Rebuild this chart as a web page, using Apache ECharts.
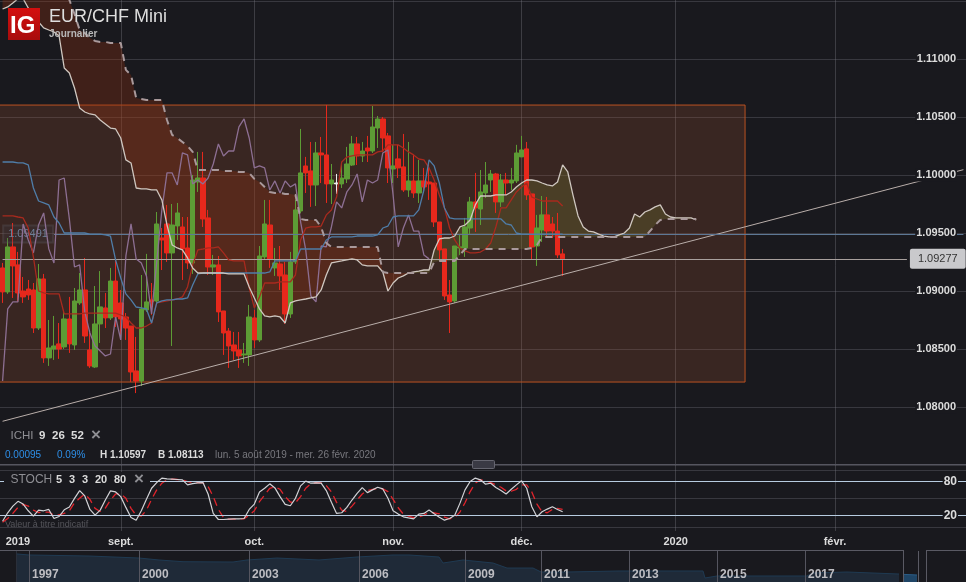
<!DOCTYPE html>
<html><head><meta charset="utf-8">
<style>html,body{margin:0;padding:0;background:#19191e}#c{width:966px;height:582px}</style>
<script src="https://cdn.jsdelivr.net/npm/echarts@6/dist/echarts.min.js"></script></head>
<body><div id="c"></div>
<script>
const opens=[1.09199,1.08992,1.0938,1.09225,1.09,1.09017,1.09009,1.08681,1.09104,1.08423,1.085,1.08544,1.08518,1.08759,1.08535,1.08897,1.09009,1.08492,1.08345,1.08716,1.08854,1.08768,1.09086,1.08897,1.08776,1.08698,1.08311,1.08224,1.08837,1.08923,1.08914,1.09457,1.09578,1.09328,1.09561,1.09552,1.09371,1.09242,1.0994,1.09974,1.0963,1.09207,1.09225,1.08828,1.08655,1.08535,1.08492,1.08449,1.08449,1.08768,1.08578,1.09294,1.09569,1.09199,1.09233,1.09138,1.08802,1.09251,1.0969,1.10078,1.10035,1.09914,1.1019,1.10173,1.09923,1.09931,1.09923,1.09966,1.10086,1.10268,1.10164,1.10233,1.10207,1.10405,1.10483,1.10337,1.10052,1.10139,1.1007,1.09871,1.09949,1.09845,1.09949,1.0994,1.09931,1.09595,1.09363,1.08966,1.08914,1.09371,1.09371,1.09543,1.09768,1.09707,1.09845,1.09957,1.10009,1.09768,1.09957,1.09931,1.09949,1.10156,1.10225,1.09837,1.09388,1.09526,1.09656,1.09578,1.09517,1.0932];
const closes=[1.08992,1.0938,1.09216,1.08983,1.08949,1.08966,1.08681,1.09104,1.08423,1.08509,1.08526,1.085,1.08759,1.08544,1.08914,1.09009,1.08612,1.08354,1.08716,1.08863,1.08768,1.09086,1.08776,1.08759,1.08681,1.08302,1.08224,1.08845,1.08906,1.08906,1.09578,1.0944,1.09328,1.09569,1.09673,1.09363,1.09242,1.09957,1.09974,1.09621,1.09207,1.09225,1.0882,1.08638,1.08526,1.08483,1.0844,1.08457,1.08776,1.08578,1.09302,1.09578,1.09276,1.09242,1.0913,1.08802,1.09251,1.09699,1.10018,1.10018,1.09914,1.1019,1.10173,1.09923,1.09957,1.09923,1.09974,1.10095,1.10268,1.10164,1.10207,1.10207,1.10414,1.10483,1.10319,1.10061,1.10078,1.10061,1.09871,1.09949,1.09845,1.09949,1.09897,1.09923,1.09595,1.09354,1.08957,1.08906,1.09388,1.0938,1.09552,1.09768,1.09716,1.09854,1.09914,1.10009,1.09768,1.09957,1.09931,1.09957,1.1019,1.10216,1.09828,1.0938,1.09543,1.09656,1.09517,1.09517,1.09311,1.09277];
const highs=[1.09242,1.09457,1.09586,1.09337,1.09121,1.09095,1.09069,1.09233,1.09147,1.0875,1.08785,1.08724,1.08837,1.08949,1.09026,1.09155,1.09285,1.08638,1.09043,1.09172,1.08983,1.09199,1.09268,1.09009,1.0881,1.08698,1.08604,1.09138,1.0932,1.09069,1.09681,1.09543,1.09742,1.0975,1.09759,1.09638,1.09638,1.1,1.10199,1.10199,1.09699,1.09311,1.09302,1.08828,1.08681,1.08647,1.08647,1.08552,1.0888,1.08837,1.09388,1.09785,1.09785,1.09371,1.09388,1.09251,1.09337,1.09785,1.10397,1.10156,1.10285,1.10285,1.10328,1.10604,1.10095,1.10009,1.10112,1.10242,1.10337,1.10328,1.10285,1.10337,1.10595,1.10509,1.105,1.10362,1.1026,1.1026,1.10354,1.10285,1.10173,1.1013,1.10061,1.10087,1.09931,1.09595,1.09363,1.09095,1.09388,1.09483,1.0963,1.09811,1.10018,1.10043,1.10112,1.10043,1.10018,1.10009,1.10018,1.10061,1.1026,1.10337,1.10285,1.09837,1.09656,1.09819,1.09811,1.09638,1.09673,1.09363];
const lows=[1.08897,1.08975,1.0894,1.08906,1.08897,1.08923,1.08638,1.08664,1.0838,1.08354,1.08406,1.08415,1.085,1.08466,1.08492,1.0888,1.08552,1.08337,1.08337,1.08552,1.08681,1.0875,1.0869,1.08595,1.08578,1.08216,1.0812,1.08181,1.0882,1.08794,1.08897,1.09181,1.09251,1.08526,1.0944,1.09095,1.0919,1.09147,1.09854,1.09552,1.09138,1.09138,1.08733,1.08449,1.08337,1.08406,1.08337,1.0838,1.08354,1.08509,1.08561,1.09276,1.09199,1.0913,1.09009,1.08716,1.08768,1.09233,1.09673,1.09845,1.09725,1.09733,1.09931,1.09759,1.0975,1.09837,1.09888,1.09931,1.10078,1.10086,1.10112,1.10112,1.1019,1.10233,1.10199,1.09931,1.09931,1.09974,1.09854,1.09811,1.09802,1.09759,1.09845,1.09785,1.09552,1.09268,1.08923,1.08638,1.08897,1.09311,1.09294,1.09483,1.09509,1.09569,1.09802,1.09854,1.09673,1.09725,1.09828,1.09871,1.09931,1.10156,1.09785,1.09276,1.09216,1.09423,1.09466,1.09457,1.09285,1.0913];
const dojiIndex=[65];
const tenkan=[1.09647,1.09647,1.09647,1.09638,1.0963,1.09543,1.09293,1.09,1.08983,1.08975,1.08975,1.08975,1.08802,1.08802,1.08802,1.08802,1.0881,1.0881,1.0881,1.0881,1.0881,1.0881,1.0881,1.08793,1.08776,1.08724,1.08681,1.08681,1.08698,1.08724,1.08897,1.08906,1.08914,1.08923,1.08931,1.08949,1.09035,1.09225,1.09354,1.09362,1.09371,1.09371,1.0938,1.09328,1.09268,1.09259,1.09259,1.09259,1.09026,1.08854,1.08949,1.09069,1.09069,1.09069,1.09078,1.09078,1.09078,1.09138,1.0944,1.09543,1.09552,1.09552,1.0956,1.09656,1.09699,1.0981,1.10112,1.10155,1.10164,1.10173,1.10173,1.10173,1.10173,1.10199,1.10207,1.1026,1.1026,1.1026,1.10233,1.10199,1.10173,1.10138,1.1013,1.10061,1.09957,1.09828,1.09716,1.09543,1.0944,1.09371,1.09345,1.09328,1.09328,1.09336,1.09362,1.09414,1.09552,1.09716,1.09716,1.09785,1.09854,1.09897,1.09931,1.0981,1.09793,1.09776,1.09776,1.09776,1.09776,1.09733];
const kijun=[1.10112,1.10112,1.10112,1.10104,1.10104,1.10087,1.09888,1.09776,1.09759,1.09742,1.09638,1.09586,1.095,1.095,1.095,1.095,1.095,1.09491,1.09491,1.09491,1.09483,1.09474,1.09268,1.09112,1.08975,1.08923,1.08862,1.08854,1.08845,1.08724,1.08897,1.08914,1.08923,1.08923,1.08931,1.08931,1.0894,1.09052,1.09147,1.09155,1.09155,1.09155,1.09155,1.09155,1.09155,1.09155,1.09155,1.09155,1.09155,1.09155,1.09155,1.09155,1.09164,1.09259,1.09259,1.09259,1.09259,1.09259,1.09362,1.09362,1.09362,1.09362,1.09362,1.0944,1.09466,1.09466,1.09466,1.09466,1.09466,1.09474,1.09474,1.09474,1.09474,1.09483,1.09543,1.0956,1.09638,1.09647,1.09647,1.09647,1.09647,1.09699,1.09871,1.1013,1.10078,1.09931,1.09716,1.0963,1.09621,1.09621,1.09621,1.09621,1.09621,1.09621,1.09621,1.09621,1.09621,1.09621,1.09578,1.09569,1.095,1.09491,1.09491,1.09491,1.09491,1.09491,1.09491,1.09491,1.09491,1.09491];
const chikou=[1.08224,1.08845,1.08906,1.08906,1.09578,1.0944,1.09328,1.09569,1.09673,1.09363,1.09242,1.09957,1.09974,1.09621,1.09207,1.09225,1.0882,1.08638,1.08526,1.08483,1.0844,1.08457,1.08776,1.08578,1.09302,1.09578,1.09276,1.09242,1.0913,1.08802,1.09251,1.09699,1.10018,1.10018,1.09914,1.1019,1.10173,1.09923,1.09957,1.09923,1.09974,1.10095,1.10268,1.10164,1.10207,1.10207,1.10414,1.10483,1.10319,1.10061,1.10078,1.10061,1.09871,1.09949,1.09845,1.09949,1.09897,1.09923,1.09595,1.09354,1.08957,1.08906,1.09388,1.0938,1.09552,1.09768,1.09716,1.09854,1.09914,1.10009,1.09768,1.09957,1.09931,1.09957,1.1019,1.10216,1.09828,1.0938,1.09543,1.09656,1.09517,1.09517,1.09311,1.09277];
const senkouA=[1.11431,1.11449,1.11483,1.1152,1.1152,1.1144,1.1138,1.11319,1.11268,1.1125,1.11233,1.11199,1.10923,1.1088,1.1075,1.10578,1.10543,1.10526,1.10518,1.10474,1.1044,1.10405,1.10397,1.10319,1.1013,1.10104,1.09888,1.0988,1.0988,1.09871,1.09871,1.09785,1.09569,1.09397,1.09371,1.09354,1.09285,1.09199,1.09155,1.09155,1.09155,1.09155,1.09155,1.09155,1.09147,1.09147,1.09147,1.09147,1.09035,1.0894,1.08845,1.08785,1.08776,1.08785,1.08776,1.08724,1.08897,1.08914,1.08923,1.08931,1.0894,1.08949,1.09009,1.09138,1.09242,1.09251,1.09259,1.09268,1.09276,1.09268,1.09225,1.09216,1.09216,1.09216,1.09164,1.09,1.09069,1.09112,1.0913,1.09155,1.09164,1.09172,1.09181,1.09181,1.09354,1.09449,1.09457,1.09457,1.09474,1.09552,1.09569,1.09612,1.09742,1.09819,1.09819,1.09819,1.09828,1.09828,1.09828,1.09854,1.09897,1.09931,1.09957,1.09957,1.09949,1.09931,1.09914,1.09906,1.0994,1.10087,1.10026,1.09828,1.09647,1.09552,1.09517,1.09509,1.09491,1.09474,1.09466,1.09466,1.09483,1.095,1.09543,1.09664,1.09638,1.09681,1.09699,1.09725,1.09742,1.09664,1.09638,1.0963,1.0963,1.0963,1.0963,1.09612];
const senkouB=[1.1181,1.1181,1.1181,1.1181,1.1181,1.1181,1.11785,1.11768,1.1175,1.11716,1.11681,1.1163,1.11578,1.11509,1.11388,1.1125,1.11224,1.11181,1.11156,1.11147,1.11147,1.11138,1.11138,1.11138,1.10906,1.10862,1.10664,1.10656,1.10647,1.10647,1.10647,1.10647,1.10474,1.10345,1.10319,1.10285,1.1025,1.10199,1.10043,1.10043,1.10043,1.10043,1.10043,1.10035,1.10035,1.10035,1.10026,1.10026,1.10018,1.09966,1.0994,1.09897,1.09854,1.09845,1.09845,1.09837,1.09837,1.09828,1.09621,1.09612,1.09612,1.09612,1.09552,1.09414,1.0938,1.0938,1.0938,1.0938,1.0938,1.0938,1.0938,1.0938,1.0938,1.0938,1.09164,1.09155,1.09155,1.09155,1.09155,1.09155,1.09155,1.09155,1.09155,1.09155,1.0925,1.09259,1.09259,1.09259,1.09259,1.0931,1.09362,1.09362,1.09362,1.09362,1.09362,1.09362,1.09362,1.09362,1.09362,1.09362,1.09362,1.09362,1.09362,1.09371,1.09397,1.09466,1.09466,1.09466,1.09466,1.09466,1.09466,1.09466,1.09466,1.09466,1.09466,1.09466,1.09466,1.09466,1.09466,1.09466,1.09466,1.09466,1.09466,1.09466,1.09466,1.09466,1.09517,1.09569,1.09612,1.09621,1.09621,1.09621,1.09621,1.09621,1.09621,1.09621];
const stochK=[9.9,24.8,36.6,45,40.2,28.3,18.8,29.5,28.3,30.7,14.7,18.2,30.1,34.9,50.3,64,54.5,30.7,20.6,29.5,47.3,63.4,61.6,53.3,34.3,16.4,11.7,28.3,48.5,68.1,78.2,86,84.8,84.2,83.6,83,74.1,76.4,77.6,78.2,58,23.6,12.9,12.9,13.5,14.1,14.1,14.7,30.7,40.2,61.6,68.1,75.9,68.7,53.3,39.6,37.2,50.3,72.3,80.6,77,77.6,77,64,43.2,23.6,24.8,34.3,47.3,59.2,69.3,60.4,65.2,69.9,66.9,50.3,28.3,22.4,17.6,15.8,14.1,22.4,23.6,29.5,23,17,11.7,14.7,20.6,41.4,65.2,80,86,83,75.3,77,69.3,64,58,66.3,74.1,81.2,68.1,35.4,17.6,26.5,31.3,35.4,30.7,26.5];
const stochD=[8.1,14.7,23.6,34.3,39.6,36.6,29.5,25.3,25.9,25.9,20.6,21.2,23.6,28.3,42.6,50.3,58,48.5,32.5,27.1,33.1,47.3,58,58,50.3,32.5,20.6,18.8,29.5,48.5,65.2,77,83,84.2,83.6,83,80,78.2,78.2,77.6,71.1,53.3,30.7,16.4,13.5,13.5,14.1,14.1,20.6,28.3,44.4,56.2,68.1,70.5,66.3,53.3,43.8,42.6,53.3,68.1,75.9,78.2,77.6,72.9,61.6,43.2,29.5,27.1,36.6,47.3,58,64,66.3,67.5,66.9,62.2,48.5,33.7,22.4,18.8,16.4,17,20.6,25.3,24.8,23,17,14.1,16.4,25.9,42.6,62.2,77,83,81.2,78.2,74.1,69.9,63.4,62.8,66.3,74.1,74.1,61.6,40.2,26.5,24.8,30.7,32.5,30.7];
const tickIndex=[3,23,49,76,101,131,162];
const tickText=['2019','sept.','oct.','nov.','déc.','2020','févr.'];
const priceTicks=[1.08,1.085,1.09,1.095,1.1,1.105,1.11];
const lastPrice=1.09277, refPrice=1.09491;
const boxHigh=1.10603, boxLow=1.08215, boxEnd=144;
const trend=[[0,1.07877],[187,1.10046]];
const navPoints=[[0,1.59],[6,1.566],[20,1.555],[36,1.542],[61,1.494],[71,1.447],[83,1.406],[108,1.399],[115,1.447],[130,1.494],[151,1.447],[170,1.518],[188,1.566],[196,1.566],[211,1.518],[213,1.375],[223,1.447],[238,1.375],[245,1.256],[258,1.256],[262,1.161],[275,1.161],[301,1.185],[343,1.185],[344,1.018],[350,1.066],[395,1.066],[398,1.137],[415,1.161],[441,1.113]];
const navCurrent=[[443,1.105],[450,1.09]];
const navTickIndex=[6,61,116,171,224,262,306,350,394];
const navTickText=['1997','2000','2003','2006','2009','2011','2013','2015','2017'];

const BG='#19191e', N=188, NN=451;
const cats=new Array(N).fill('').map((_,i)=>{const j=tickIndex.indexOf(i);return j>=0?tickText[j]:'d'+i;});
const navCats=new Array(NN).fill('').map((_,i)=>{const j=navTickIndex.indexOf(i);return j>=0?navTickText[j]:'n'+i;});
const candleData=opens.map((o,i)=>{
  const v=[o,closes[i],lows[i],highs[i]];
  return dojiIndex.includes(i)?{value:v,itemStyle:{color:'#eee',color0:'#eee',borderColor:'#eee',borderColor0:'#eee'}}:v;
});
const gridV=i=>tickIndex.includes(i)&&i!==3;
const chart=echarts.init(document.getElementById('c'),null,{renderer:'canvas'});

function cloudItem(params,api){
  const runs=[];let cur=null,prev=null;
  for(let i=0;i<senkouA.length;i++){
    const pa=api.coord([i,senkouA[i]]),pb=api.coord([i,senkouB[i]]),d=senkouA[i]-senkouB[i],s=d>=0;
    if(!cur)cur={s,a:[],b:[]};
    else if(cur.s!==s){
      const t=prev.d/(prev.d-d);
      const c=[prev.pa[0]+t*(pa[0]-prev.pa[0]),prev.pa[1]+t*(pa[1]-prev.pa[1])];
      cur.a.push(c);cur.b.push(c);runs.push(cur);
      cur={s,a:[c],b:[c]};
    }
    cur.a.push(pa);cur.b.push(pb);prev={pa,pb,d};
  }
  runs.push(cur);
  return {type:'group',children:runs.map(r=>({type:'polygon',
    shape:{points:r.a.concat(r.b.slice().reverse())},
    style:{fill:r.s?'rgba(120,125,50,0.28)':'rgba(150,50,15,0.32)'}}))};
}
function boxItem(params,api){
  const a=api.coord([0,api.value(1)]),b=api.coord([api.value(0),api.value(2)]),w=api.size([1,0])[0]/2;
  return {type:'rect',shape:{x:a[0]-w-2,y:a[1],width:b[0]-a[0]+2*w+2,height:b[1]-a[1]},
    style:{fill:'rgba(175,85,50,0.22)',stroke:'#bb5222',lineWidth:1}};
}
const lbl={color:'#dcdcdc',fontFamily:'Liberation Sans',fontSize:11,fontWeight:'bold'};
function txt(x,y,s,fill,size,weight){
  return {type:'text',z:100,x,y,style:{text:s,fill,font:(weight||'normal')+' '+size+'px "Liberation Sans"',verticalAlign:'middle'}};
}
function ln(x1,y1,x2,y2,c){return {type:'line',z:99,shape:{x1,y1,x2,y2},style:{stroke:c,lineWidth:1}};}

const option={
  animation:false,backgroundColor:BG,
  grid:[
    {left:0,right:0,top:1,height:464},
    {left:0,right:0,top:470.2,height:56.6},
    {left:0,right:0,top:0,height:531},
    {left:16,right:48,top:550,bottom:0}
  ],
  xAxis:[
    {gridIndex:0,type:'category',data:cats,axisLine:{show:false},axisTick:{show:false},axisLabel:{show:false},splitLine:{show:false}},
    {gridIndex:1,type:'category',data:cats,axisLine:{show:false},axisTick:{show:false},axisLabel:{show:false},splitLine:{show:false}},
    {gridIndex:2,type:'category',data:cats,axisLine:{show:false},axisTick:{show:false},
      axisLabel:{...lbl,margin:5,interval:i=>tickIndex.includes(i)},
      splitLine:{show:true,alignWithLabel:true,interval:gridV,lineStyle:{color:'rgba(120,120,130,0.38)',width:1}}},
    {gridIndex:3,type:'category',data:navCats,z:10,axisLine:{show:false},axisTick:{show:false},
      axisLabel:{...lbl,fontSize:12,color:'#bdbdc2',inside:true,align:'left',margin:1,padding:[0,0,0,3],interval:i=>navTickIndex.includes(i)},
      splitLine:{show:true,alignWithLabel:true,interval:i=>navTickIndex.includes(i),lineStyle:{color:'#55555f',width:1}}}
  ],
  yAxis:[
    {gridIndex:0,type:'value',min:1.075,max:1.115,interval:0.005,position:'right',axisLine:{show:false},axisTick:{show:false},axisLabel:{show:false},
      splitLine:{show:true,lineStyle:{color:'rgba(120,120,130,0.33)',width:1}}},
    {gridIndex:0,type:'value',min:1.075,max:1.115,interval:0.005,position:'right',z:10,axisLine:{show:false},axisTick:{show:false},splitLine:{show:false},
      axisLabel:{...lbl,inside:true,margin:9,backgroundColor:BG,padding:[1,1,1,1],customValues:priceTicks,formatter:v=>v.toFixed(5)}},
    {gridIndex:1,type:'value',min:0,max:100,interval:50,position:'right',axisLine:{show:false},axisTick:{show:false},axisLabel:{show:false},
      splitLine:{show:true,lineStyle:{color:'rgba(120,120,130,0.33)',width:1}}},
    {gridIndex:1,type:'value',min:0,max:100,interval:50,position:'right',z:10,axisLine:{show:false},axisTick:{show:false},splitLine:{show:false},
      axisLabel:{...lbl,fontSize:12,inside:true,margin:8,backgroundColor:BG,padding:[0,1,0,1],customValues:[20,80]}},
    {gridIndex:2,type:'value',min:0,max:1,show:false},
    {gridIndex:3,type:'value',min:0.923,max:1.685,show:false}
  ],
  series:[
    {name:'box',type:'custom',z:1,silent:true,xAxisIndex:0,yAxisIndex:0,renderItem:boxItem,encode:{x:0,y:1},data:[[boxEnd,boxHigh,boxLow]]},
    {name:'cloud',type:'custom',z:2,silent:true,xAxisIndex:0,yAxisIndex:0,renderItem:cloudItem,encode:{x:0,y:1},data:[[0,1.09]]},
    {name:'candles',type:'candlestick',z:3,xAxisIndex:0,yAxisIndex:0,barWidth:5,data:candleData,
      itemStyle:{color:'#5d9c35',color0:'#e6281c',borderColor:'#5d9c35',borderColor0:'#e6281c',borderWidth:1}},
    {name:'trend',type:'line',z:4,xAxisIndex:0,yAxisIndex:0,symbol:'none',data:trend,lineStyle:{color:'#b9aeaa',width:1}},
    {name:'chikou',type:'line',z:5,xAxisIndex:0,yAxisIndex:0,symbol:'none',data:chikou,lineStyle:{color:'#8d6f93',width:1.3}},
    {name:'tenkan',type:'line',z:5,xAxisIndex:0,yAxisIndex:0,symbol:'none',data:tenkan,lineStyle:{color:'#a82a1e',width:1.3}},
    {name:'kijun',type:'line',z:5,xAxisIndex:0,yAxisIndex:0,symbol:'none',data:kijun,lineStyle:{color:'#4f7da8',width:1.3}},
    {name:'senkouA',type:'line',z:6,xAxisIndex:0,yAxisIndex:0,symbol:'none',data:senkouA,lineStyle:{color:'#cfc7c0',width:1.3}},
    {name:'senkouB',type:'line',z:6,xAxisIndex:0,yAxisIndex:0,symbol:'none',data:senkouB,lineStyle:{color:'#a9999b',width:2,type:[7,6]}},
    {name:'levels',type:'line',z:4,xAxisIndex:0,yAxisIndex:0,symbol:'none',data:[],
      markLine:{silent:true,symbol:'none',animation:false,data:[
        [{coord:[10,refPrice],lineStyle:{color:'#5d7896',width:1,type:'solid'},
          label:{show:true,position:'start',distance:1,formatter:refPrice.toFixed(5),color:'#6d7f98',fontSize:11,fontFamily:'Liberation Sans',
            backgroundColor:'rgba(60,60,70,0.25)',borderColor:'rgba(110,110,120,0.25)',borderWidth:1,padding:[3,5,3,5]}},{coord:[187,refPrice]}],
        [{coord:[0,lastPrice],lineStyle:{color:'#a8a09d',width:1,type:'solid'},
          label:{show:true,position:'end',distance:3,formatter:lastPrice.toFixed(5),backgroundColor:'#c9c9cc',color:'#333',borderRadius:2,padding:[5,8,4,8],fontSize:11,fontFamily:'Liberation Sans'}},{coord:[176,lastPrice]}]
      ]}},
    {name:'stochD',type:'line',z:4,xAxisIndex:1,yAxisIndex:2,symbol:'none',data:stochD,lineStyle:{color:'#e0242c',width:1.3,type:[8,5]}},
    {name:'stochK',type:'line',z:5,xAxisIndex:1,yAxisIndex:2,symbol:'none',data:stochK,lineStyle:{color:'#d2d2d6',width:1.2},
      markLine:{silent:true,symbol:'none',animation:false,label:{show:false},lineStyle:{color:'#b8cce0',width:1,type:'solid'},data:[{yAxis:80},{yAxis:20}]}},
    {name:'verticals',type:'line',xAxisIndex:2,yAxisIndex:4,symbol:'none',data:[]},
    {name:'nav',type:'line',z:2,xAxisIndex:3,yAxisIndex:5,symbol:'none',data:navPoints,lineStyle:{color:'#1f3a52',width:1},areaStyle:{color:'#1f2a38',opacity:1}},
    {name:'navCurrent',type:'line',z:2,xAxisIndex:3,yAxisIndex:5,symbol:'none',data:navCurrent,lineStyle:{color:'#2a5c86',width:1},areaStyle:{color:'#1f4566',opacity:1}}
  ],
  graphic:[
    {type:'rect',z:100,shape:{x:8,y:8,width:32,height:32},style:{fill:new echarts.graphic.LinearGradient(0,0,0,1,[{offset:0,color:'#d40f0f'},{offset:1,color:'#a80c0c'}])}},
    {type:'text',z:101,x:10,y:14,style:{text:'IG',fill:'#fff',font:'bold 24px "Liberation Sans"'}},
    {type:'text',z:100,x:49,y:8,style:{text:'EUR/CHF Mini',fill:'#dedede',font:'18px "Liberation Sans"'}},
    {type:'text',z:100,x:49,y:29,style:{text:'Journalier',fill:'#b8b8b8',font:'bold 10px "Liberation Sans"'}},
    txt(10.5,436,'ICHI','#8f8f94',11.5),txt(39,436,'9','#dcdcdc',11.5,'bold'),txt(52,436,'26','#dcdcdc',11.5,'bold'),txt(71,436,'52','#dcdcdc',11.5,'bold'),txt(91,435,'×','#8f8f94',17,'bold'),
    txt(5,455,'0.00095','#2e8fe8',10),txt(57,455,'0.09%','#2e8fe8',10),
    txt(100,455,'H 1.10597','#dcdcdc',10,'bold'),txt(158,455,'B 1.08113','#dcdcdc',10,'bold'),
    txt(215,455,'lun. 5 août 2019 - mer. 26 févr. 2020','#78787e',10),
    ln(0,464.5,966,464.5,'#55555f'),
    {type:'rect',z:100,shape:{x:472.5,y:460.5,width:22,height:8,r:1},style:{fill:'#3a3a44',stroke:'#666670',lineWidth:1}},
    ln(478,462.5,489,462.5,'#b5b5bd'),ln(478,464.5,489,464.5,'#b5b5bd'),ln(478,466.5,489,466.5,'#b5b5bd'),
    {type:'rect',z:98,shape:{x:4,y:472,width:146,height:17},style:{fill:BG}},
    txt(10.5,480,'STOCH','#8f8f94',12),txt(56,480,'5','#dcdcdc',11,'bold'),txt(69,480,'3','#dcdcdc',11,'bold'),txt(82,480,'3','#dcdcdc',11,'bold'),txt(95,480,'20','#dcdcdc',11,'bold'),txt(114,480,'80','#dcdcdc',11,'bold'),txt(134,479,'×','#8f8f94',17,'bold'),
    txt(5,525,'Valeur à titre indicatif','#55555b',9),
    ln(0,550.5,903.5,550.5,'#5a5a64'),ln(16.5,551,16.5,582,'#2a2f3a'),ln(903.5,550,903.5,582,'#5a5a64'),ln(918.5,551,918.5,582,'#5a5a64'),
    ln(926.5,550.5,966,550.5,'#5a5a64'),ln(926.5,550,926.5,582,'#5a5a64')
  ]
};
chart.setOption(option);
</script></body></html>
